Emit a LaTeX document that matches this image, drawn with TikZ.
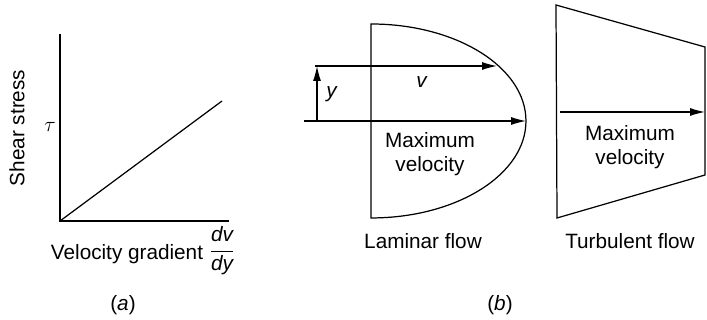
\documentclass[tikz,border=0pt]{standalone}
\usepackage{amsmath}
\usepackage{fontspec}
\setmainfont{Liberation Sans}
\usetikzlibrary{arrows.meta}

\begin{document}
\begin{tikzpicture}[x=0.02cm, y=-0.02cm, every node/.style={font=\fontsize{11.8}{13.5}\selectfont, inner sep=1pt}, >={Latex[length=3mm, width=1.6mm]}, profile/.style={line width=0.7pt}]
	\useasboundingbox (0,0) rectangle (707,320);
	\coordinate (O) at (60,221);
	\coordinate (yaxis) at (60,34);
	\coordinate (xaxis) at (229,221);
	\coordinate (fit) at (222,101);
	\draw[profile] (yaxis) -- (O) -- (xaxis);
	\draw[profile] (O) -- (fit);
	\node[rotate=90] (shear) at (17,128) {Shear stress};
	\node (tau) at (50,127) {$\tau$};
	\node (velgrad) at (127,254) {Velocity gradient};
	\node (grad) at (222,251) {$\dfrac{\textit{dv}}{\textit{dy}}$};
	\node (capa) at (123,305) {(\textit{a})};
	\coordinate (lamtop) at (371,24);
	\coordinate (lamtip) at (526,121);
	\draw[profile] (lamtop) arc[start angle=90, end angle=-90, x radius=3.1cm, y radius=1.94cm] -- cycle;
	\coordinate (vstart) at (315,66);
	\coordinate (vend) at (497,66);
	\coordinate (maxstart) at (304,121);
	\coordinate (ybase) at (317,121);
	\coordinate (ytip) at (317,66);
	\draw[->, profile] (vstart) -- (vend);
	\draw[->, profile] (maxstart) -- (lamtip);
	\draw[->, profile] (ybase) -- (ytip);
	\node (ylab) at (332,94) {\textit{y}};
	\node (vlab) at (422,82) {\textit{v}};
	\node[align=center] (lammax) at (430,154) {Maximum\\velocity};
	\node (lamflow) at (423,241) {Laminar flow};
	\node (capb) at (500,305) {(\textit{b})};
	\coordinate (ttl) at (556,5);
	\coordinate (ttr) at (705,47);
	\coordinate (tbr) at (705,175);
	\coordinate (tbl) at (557,218);
	\coordinate (tstart) at (560,112);
	\coordinate (tend) at (705,112);
	\draw[profile] (ttl) -- (ttr) -- (tbr) -- (tbl) -- cycle;
	\draw[->, profile] (tstart) -- (tend);
	\node[align=center] (turbmax) at (630,147) {Maximum\\velocity};
	\node (turbflow) at (630,241) {Turbulent flow};
\end{tikzpicture}
\end{document}
